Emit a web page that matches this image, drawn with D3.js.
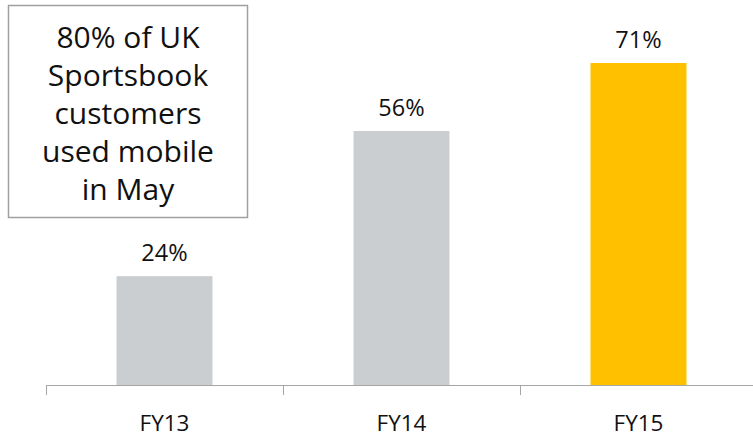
<!DOCTYPE html>
<html>
<head>
<meta charset="utf-8">
<script src="https://cdn.jsdelivr.net/npm/d3@7/dist/d3.min.js"></script>
<style>
  html, body { margin: 0; padding: 0; background: #fff; }
  svg { display: block; font-family: "Open Sans", "Noto Sans", sans-serif; }
</style>
</head>
<body>
<svg id="chart" width="753" height="438"></svg>
<script>
// Share of UK Sportsbook customers using mobile, by financial year
const categories = ["FY13", "FY14", "FY15"];
const values = [24, 56, 71];
const barColors = ["#CBCED1", "#CBCED1", "#FFC000"];
const calloutLines = ["80% of UK", "Sportsbook", "customers", "used mobile", "in May"];

const svg = d3.select("#chart");
const baseY = 385;

const x = d3.scaleBand()
  .domain(categories)
  .range([46, 757])
  .paddingInner(0.595)
  .paddingOuter(0.2975);

const y = d3.scaleLinear()
  .domain([0, 80])
  .range([baseY, 22.2]);

// bars
svg.append("g")
  .selectAll("rect")
  .data(categories)
  .join("rect")
  .attr("x", d => x(d))
  .attr("width", x.bandwidth())
  .attr("y", (d, i) => y(values[i]))
  .attr("height", (d, i) => baseY - y(values[i]))
  .attr("fill", (d, i) => barColors[i]);

// value labels
svg.append("g")
  .selectAll("text")
  .data(categories)
  .join("text")
  .attr("x", d => x(d) + x.bandwidth() / 2)
  .attr("y", (d, i) => y(values[i]) - 15)
  .attr("text-anchor", "middle")
  .attr("font-size", 23.5)
  .attr("fill", "#111")
  .text((d, i) => values[i] + "%");

// category axis with boundary ticks
const step = x.step();
const axisG = svg.append("g");
axisG.append("line")
  .attr("x1", 46).attr("x2", 753)
  .attr("y1", baseY + 0.5).attr("y2", baseY + 0.5)
  .attr("stroke", "#A6A6A6").attr("stroke-width", 1);
axisG.selectAll("line.tick")
  .data(d3.range(categories.length))
  .join("line")
  .attr("class", "tick")
  .attr("x1", i => 46.5 + i * step).attr("x2", i => 46.5 + i * step)
  .attr("y1", baseY).attr("y2", baseY + 10)
  .attr("stroke", "#A6A6A6").attr("stroke-width", 1);
axisG.selectAll("text")
  .data(categories)
  .join("text")
  .attr("x", d => x(d) + x.bandwidth() / 2)
  .attr("y", 431)
  .attr("text-anchor", "middle")
  .attr("font-size", 22.5)
  .attr("fill", "#111")
  .text(d => d);

// callout box
const box = svg.append("g");
box.append("rect")
  .attr("x", 8.5).attr("y", 5.5)
  .attr("width", 239).attr("height", 212)
  .attr("fill", "#fff")
  .attr("stroke", "#A0A0A0").attr("stroke-width", 1.5);
box.selectAll("text")
  .data(calloutLines)
  .join("text")
  .attr("x", 128)
  .attr("y", (d, i) => 48 + i * 38)
  .attr("text-anchor", "middle")
  .attr("font-size", 30)
  .attr("fill", "#111")
  .text(d => d);
</script>
</body>
</html>
